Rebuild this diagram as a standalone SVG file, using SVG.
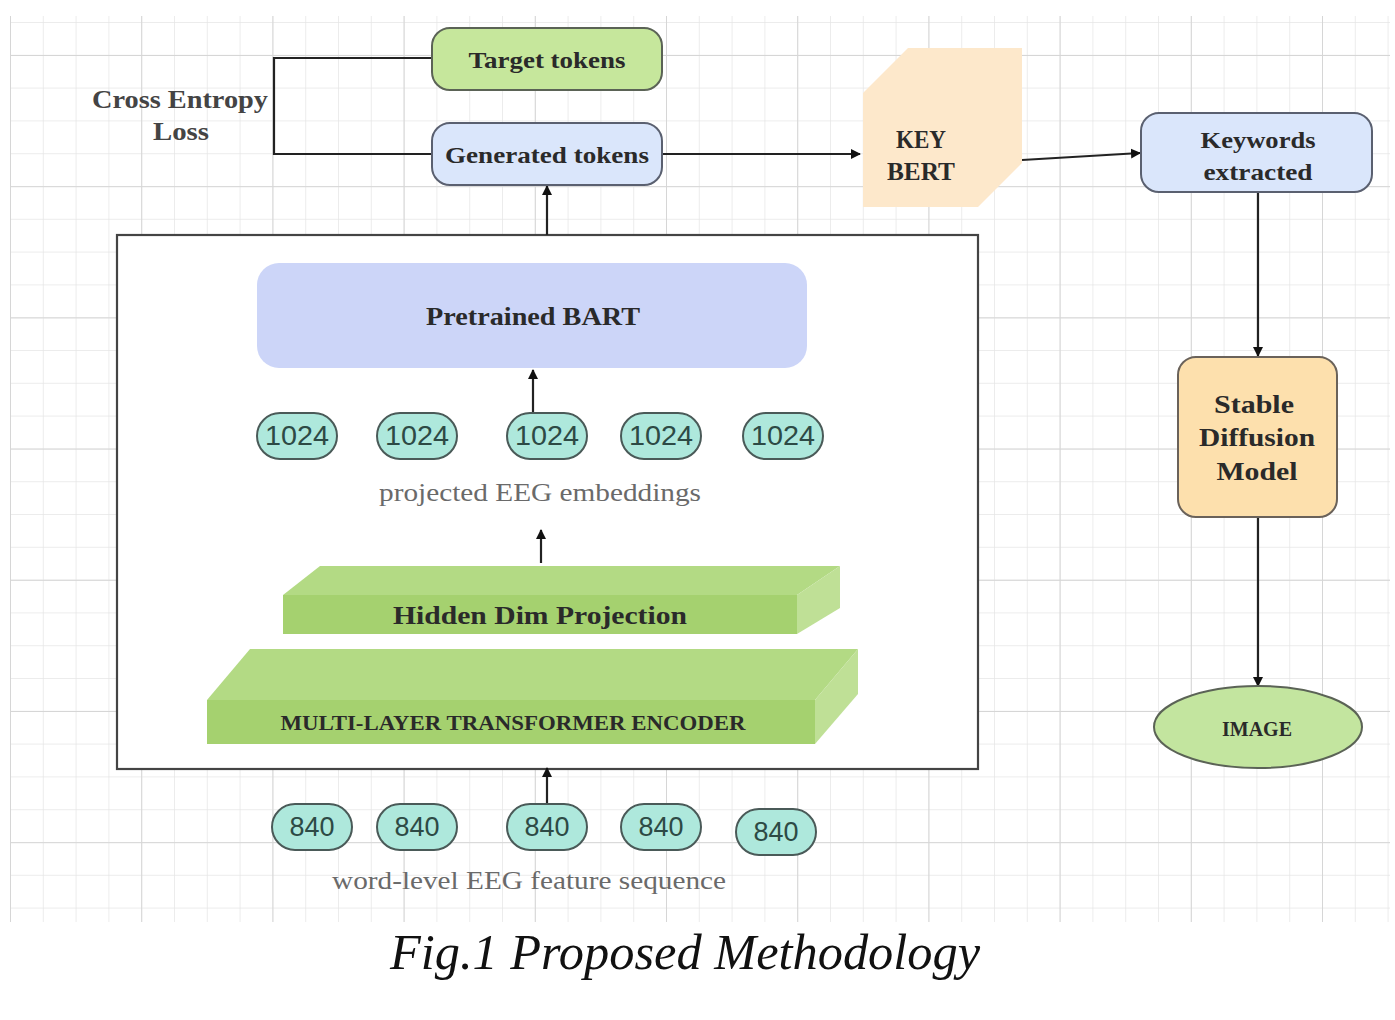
<svg xmlns="http://www.w3.org/2000/svg" width="1395" height="1020" viewBox="0 0 1395 1020">
<defs>
<pattern id="minor" x="10" y="22" width="32.8" height="32.8" patternUnits="userSpaceOnUse">
<path d="M0 0 V32.8 M0 0 H32.8" fill="none" stroke="#e6e6e6" stroke-width="1.5"/>
</pattern>
<pattern id="major" x="10" y="55" width="131.2" height="131.2" patternUnits="userSpaceOnUse">
<path d="M0 0 V131.2 M0 0 H131.2" fill="none" stroke="#d6d6d6" stroke-width="2"/>
</pattern>
<marker id="arr" viewBox="0 0 10 10" refX="9" refY="5" markerWidth="10" markerHeight="10" markerUnits="userSpaceOnUse" orient="auto">
<path d="M0 0 L10 5 L0 10 Z" fill="#111"/>
</marker>
<style>
.lbl{font-family:"Liberation Serif","DejaVu Serif",serif;font-weight:bold;fill:#2a2a2a;text-anchor:middle;dominant-baseline:central}
.lbl2{font-family:"Liberation Serif","DejaVu Serif",serif;font-weight:bold;fill:#444;text-anchor:middle;dominant-baseline:central}
.gray{font-family:"Liberation Serif","DejaVu Serif",serif;fill:#6a6a6a;text-anchor:middle;dominant-baseline:central;font-size:25px}
.num{font-family:"Liberation Sans","Arial",sans-serif;fill:#2d4a45;text-anchor:middle;dominant-baseline:central;font-size:27px}
.pill{fill:#aee8dc;stroke:#4a5a58;stroke-width:2}
.conn{fill:none;stroke:#222;stroke-width:2.2}
</style>
</defs>
<rect width="1395" height="1020" fill="#fff"/>
<g id="grid">
<rect x="10" y="16" width="1380" height="906" fill="url(#minor)"/>
<rect x="10" y="16" width="1380" height="906" fill="url(#major)"/>
</g>

<g id="model-box">
<rect x="117" y="235" width="861" height="534" fill="#fff" stroke="#444" stroke-width="2.2"/>
</g>

<g id="connectors">
<path class="conn" d="M432 58 H274 V154 H432"/>
<path class="conn" d="M662 154 H860" marker-end="url(#arr)"/>
<path class="conn" d="M1022 160 L1140 153" marker-end="url(#arr)"/>
<path class="conn" d="M1258 192 V356" marker-end="url(#arr)"/>
<path class="conn" d="M1258 517 V686" marker-end="url(#arr)"/>
<path class="conn" d="M547 235 V186" marker-end="url(#arr)"/>
<path class="conn" d="M533 413 V370" marker-end="url(#arr)"/>
<path class="conn" d="M541 563 V530" marker-end="url(#arr)"/>
<path class="conn" d="M547 810 V768" marker-end="url(#arr)"/>
</g>

<g id="loss-label">
<text class="lbl2" x="180" y="99" font-size="25" textLength="176" lengthAdjust="spacingAndGlyphs">Cross Entropy</text>
<text class="lbl2" x="181" y="131" font-size="25" textLength="56" lengthAdjust="spacingAndGlyphs">Loss</text>
</g>

<g id="target-tokens">
<rect x="432" y="28" width="230" height="62" rx="18" fill="#c6e79c" stroke="#5b6356" stroke-width="2"/>
<text class="lbl" x="547" y="60" font-size="24" textLength="157" lengthAdjust="spacingAndGlyphs">Target tokens</text>
</g>

<g id="generated-tokens">
<rect x="432" y="123" width="230" height="62" rx="18" fill="#dae6fb" stroke="#5a6070" stroke-width="2"/>
<text class="lbl" x="547" y="155" font-size="24" textLength="204" lengthAdjust="spacingAndGlyphs">Generated tokens</text>
</g>

<g id="keybert">
<polygon points="908,48 1022,48 1022,163 978,207 863,207 863,93" fill="#fde8cb"/>
<text class="lbl" x="921" y="139" font-size="25" textLength="50" lengthAdjust="spacingAndGlyphs">KEY</text>
<text class="lbl" x="921" y="171" font-size="25" textLength="68" lengthAdjust="spacingAndGlyphs">BERT</text>
</g>

<g id="keywords">
<rect x="1141" y="113" width="231" height="79" rx="18" fill="#dae6fb" stroke="#5a6070" stroke-width="2"/>
<text class="lbl" x="1258" y="140" font-size="24" textLength="115" lengthAdjust="spacingAndGlyphs">Keywords</text>
<text class="lbl" x="1258" y="172" font-size="24" textLength="109" lengthAdjust="spacingAndGlyphs">extracted</text>
</g>

<g id="stable-diffusion">
<rect x="1178" y="357" width="159" height="160" rx="18" fill="#fde0ad" stroke="#6a625a" stroke-width="2"/>
<text class="lbl" x="1254" y="404" font-size="26" textLength="80" lengthAdjust="spacingAndGlyphs">Stable</text>
<text class="lbl" x="1257" y="437" font-size="26" textLength="116" lengthAdjust="spacingAndGlyphs">Diffusion</text>
<text class="lbl" x="1257" y="471" font-size="26" textLength="81" lengthAdjust="spacingAndGlyphs">Model</text>
</g>

<g id="image">
<ellipse cx="1258" cy="727" rx="104" ry="41" fill="#c3e59f" stroke="#5b6356" stroke-width="2"/>
<text class="lbl" x="1257" y="729" font-size="21" textLength="70" lengthAdjust="spacingAndGlyphs">IMAGE</text>
</g>

<g id="bart">
<rect x="257" y="263" width="550" height="105" rx="22" fill="#ccd5f8"/>
<text class="lbl" x="533" y="316" font-size="26" textLength="214" lengthAdjust="spacingAndGlyphs">Pretrained BART</text>
</g>

<g id="emb-1024">
<rect class="pill" x="257" y="413" width="80" height="46" rx="23"/>
<text class="num" x="297" y="436" textLength="64" lengthAdjust="spacingAndGlyphs">1024</text>
<rect class="pill" x="377" y="413" width="80" height="46" rx="23"/>
<text class="num" x="417" y="436" textLength="64" lengthAdjust="spacingAndGlyphs">1024</text>
<rect class="pill" x="507" y="413" width="80" height="46" rx="23"/>
<text class="num" x="547" y="436" textLength="64" lengthAdjust="spacingAndGlyphs">1024</text>
<rect class="pill" x="621" y="413" width="80" height="46" rx="23"/>
<text class="num" x="661" y="436" textLength="64" lengthAdjust="spacingAndGlyphs">1024</text>
<rect class="pill" x="743" y="413" width="80" height="46" rx="23"/>
<text class="num" x="783" y="436" textLength="64" lengthAdjust="spacingAndGlyphs">1024</text>
<text class="gray" x="540" y="492" textLength="322" lengthAdjust="spacingAndGlyphs">projected EEG embeddings</text>
</g>

<g id="hidden-dim">
<polygon points="283,595 320,566 840,566 797,595" fill="#b3da84"/>
<polygon points="797,595 840,566 840,608 797,634" fill="#bfe096"/>
<rect x="283" y="595" width="514" height="39" fill="#a5d16f"/>
<text class="lbl" x="540" y="615" font-size="25" textLength="294" lengthAdjust="spacingAndGlyphs">Hidden Dim Projection</text>
</g>

<g id="encoder">
<polygon points="207,700 250,649 858,649 815,700" fill="#b3da84"/>
<polygon points="815,700 858,649 858,694 815,744" fill="#bfe096"/>
<rect x="207" y="700" width="608" height="44" fill="#a5d16f"/>
<text class="lbl" x="513" y="722" font-size="22" textLength="465" lengthAdjust="spacingAndGlyphs">MULTI-LAYER TRANSFORMER ENCODER</text>
</g>

<g id="feat-840">
<rect class="pill" x="272" y="804" width="80" height="46" rx="23"/>
<text class="num" x="312" y="827">840</text>
<rect class="pill" x="377" y="804" width="80" height="46" rx="23"/>
<text class="num" x="417" y="827">840</text>
<rect class="pill" x="507" y="804" width="80" height="46" rx="23"/>
<text class="num" x="547" y="827">840</text>
<rect class="pill" x="621" y="804" width="80" height="46" rx="23"/>
<text class="num" x="661" y="827">840</text>
<rect class="pill" x="736" y="809" width="80" height="46" rx="23"/>
<text class="num" x="776" y="832">840</text>
<text class="gray" x="529" y="880" textLength="394" lengthAdjust="spacingAndGlyphs">word-level EEG feature sequence</text>
</g>

<g id="caption">
<text x="685" y="952" font-family="'Liberation Serif','Times New Roman',serif" font-style="italic" font-size="50" fill="#111" text-anchor="middle" dominant-baseline="central" textLength="590" lengthAdjust="spacingAndGlyphs">Fig.1 Proposed Methodology</text>
</g>
</svg>
